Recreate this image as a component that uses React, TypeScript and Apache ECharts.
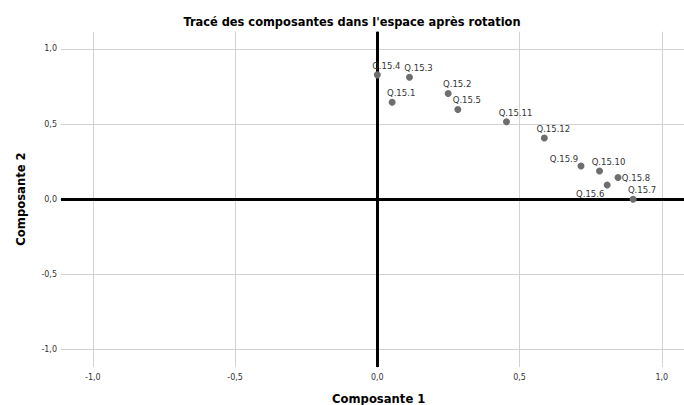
import React, { useEffect, useRef } from "react";
import * as echarts from "echarts";

const names = ["Q.15.4", "Q.15.3", "Q.15.1", "Q.15.2", "Q.15.5", "Q.15.11", "Q.15.12", "Q.15.9", "Q.15.10", "Q.15.8", "Q.15.6", "Q.15.7"];
const comp1 = [0.0, 0.113, 0.052, 0.249, 0.283, 0.454, 0.587, 0.716, 0.781, 0.846, 0.808, 0.899];
const comp2 = [0.828, 0.812, 0.646, 0.704, 0.598, 0.516, 0.408, 0.222, 0.189, 0.145, 0.096, 0.001];
const tickValues = [-1, -0.5, 0, 0.5, 1];
const gridValues = [-1, -0.5, 0.5, 1];
const title = "Tracé des composantes dans l'espace après rotation";
const xName = "Composante 1";
const yName = "Composante 2";

const labelOffsets: Record<string, number[]> = {
  "Q.15.8": [18, 0],
  "Q.15.6": [-17, 9],
  "Q.15.9": [-17, -7],
};

const fmt = (v: number) => v.toFixed(1).replace(".", ",");

export default function App() {
  const ref = useRef<HTMLDivElement>(null);
  useEffect(() => {
    if (!ref.current) return;
    const chart = echarts.init(ref.current, null, { renderer: "svg" });
    const font = "DejaVu Sans";
    chart.setOption({
      animation: false,
      backgroundColor: "#ffffff",
      title: {
        text: title,
        left: 347,
        top: 10,
        textAlign: "center",
        textStyle: { fontFamily: "DejaVu Sans Condensed", fontWeight: "bold", fontSize: 12.7, color: "#000" },
      },
      grid: { left: 61, right: 0, top: 31.7, bottom: 38 },
      xAxis: {
        type: "value",
        min: -1.112,
        max: 1.078,
        axisLine: { show: true, lineStyle: { color: "#8c8c8c", width: 1 } },
        axisTick: { show: false },
        splitLine: { show: false },
        axisLabel: {
          customValues: tickValues,
          formatter: (v: number) => fmt(v),
          fontFamily: font,
          fontSize: 8,
          color: "#333",
          margin: 6,
        },
      },
      yAxis: {
        type: "value",
        min: -1.115,
        max: 1.115,
        axisLine: { show: true, lineStyle: { color: "#8c8c8c", width: 1 } },
        axisTick: { show: false },
        splitLine: { show: false },
        axisLabel: {
          customValues: tickValues,
          formatter: (v: number) => fmt(v),
          fontFamily: font,
          fontSize: 8,
          color: "#333",
          margin: 4,
        },
      },
      graphic: [
        {
          type: "text",
          x: 378.7,
          y: 398.5,
          style: {
            text: xName,
            fontFamily: font,
            fontWeight: "bold",
            fontSize: 11.6,
            fill: "#000",
            align: "center",
            verticalAlign: "middle",
          },
        },
        {
          type: "text",
          x: 21,
          y: 199,
          rotation: Math.PI / 2,
          style: {
            text: yName,
            fontFamily: font,
            fontWeight: "bold",
            fontSize: 11.6,
            fill: "#000",
            align: "center",
            verticalAlign: "middle",
          },
        },
      ],
      series: [
        {
          type: "line",
          data: [],
          silent: true,
          markLine: {
            silent: true,
            symbol: "none",
            label: { show: false },
            lineStyle: { color: "#d2d2d2", width: 1, type: "solid" },
            data: [
              ...gridValues.map((v) => ({ xAxis: v })),
              ...gridValues.map((v) => ({ yAxis: v })),
            ],
          },
        },
        {
          type: "line",
          data: [],
          silent: true,
          markLine: {
            silent: true,
            symbol: "none",
            label: { show: false },
            lineStyle: { color: "#000", width: 3, type: "solid" },
            data: [{ xAxis: 0 }, { yAxis: 0 }],
          },
        },
        {
          type: "scatter",
          symbolSize: 7,
          itemStyle: { color: "#6e6e6e", opacity: 1 },
          label: {
            show: true,
            position: "inside",
            offset: [9, -9],
            formatter: (p: any) => p.name,
            fontFamily: font,
            fontSize: 8.5,
            color: "#333",
          },
          data: names.map((n, i) => ({
            name: n,
            value: [comp1[i], comp2[i]],
            label: labelOffsets[n] ? { offset: labelOffsets[n] } : undefined,
          })),
          z: 5,
        },
      ],
    });
    return () => chart.dispose();
  }, []);
  return (
    <div
      ref={ref}
      style={{ position: "fixed", left: 0, top: 0, width: 684, height: 405, background: "#fff" }}
    />
  );
}
